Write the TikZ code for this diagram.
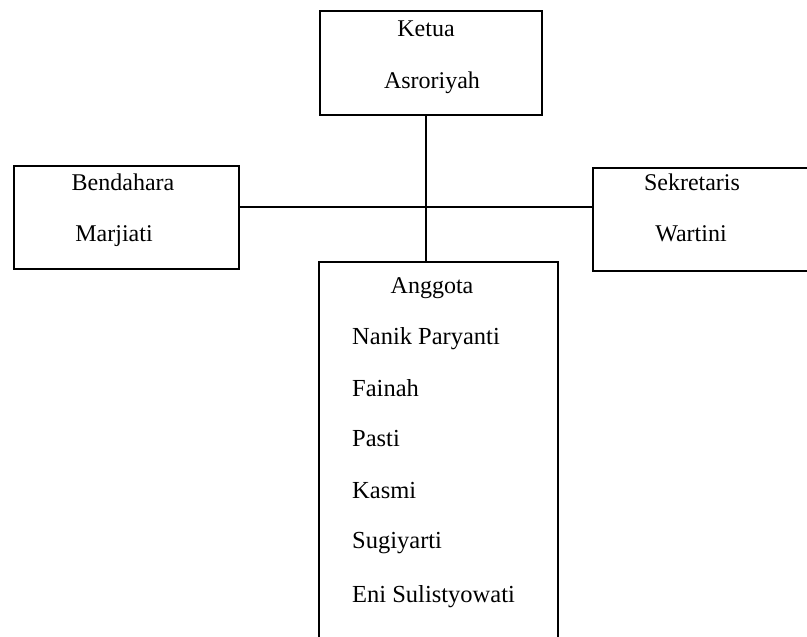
\documentclass[tikz,border=0pt]{standalone}
\usepackage{fontspec}
\setmainfont{Liberation Serif}
\begin{document}
\begin{tikzpicture}[x=1pt,y=-1pt,
  box/.style={draw=black,line width=1.6pt,inner sep=0pt,outer sep=0pt,anchor=north west},
  conn/.style={draw=black,line width=2.6pt},
  lbl/.style={inner sep=0pt,anchor=base,font=\fontsize{24}{28}\selectfont},
  mem/.style={inner sep=0pt,anchor=base west,font=\fontsize{24.5}{28}\selectfont}]
\useasboundingbox (0,0) rectangle (807,637);
\clip (0,0) rectangle (807,637);
\node[box,minimum width=222pt,minimum height=104pt] (ketua) at (320,11) {};
\node[box,minimum width=225pt,minimum height=103pt] (bendahara) at (14,166) {};
\draw[line width=2.6pt] (bendahara.north west) -- (bendahara.south west);
\node[box,minimum width=230pt,minimum height=103pt] (sekretaris) at (593,168) {};
\draw[line width=2.4pt] (sekretaris.north west) -- (sekretaris.south west);
\node[box,minimum width=239pt,minimum height=390pt] (anggota) at (319,262) {};
% texts
\node[lbl] (tketua) at (426,36) {Ketua};
\node[lbl] (tasro) at (432,88) {Asroriyah};
\node[lbl] (tbend) at (123,190) {Bendahara};
\node[lbl] (tmarj) at (114,241) {Marjiati};
\node[lbl] (tsekr) at (692,190) {Sekretaris};
\node[lbl] (twart) at (691,241) {Wartini};
\node[lbl] (tangg) at (432,293) {Anggota};
\node[mem] (m1) at (352,344) {Nanik Paryanti};
\node[mem] (m2) at (352,396) {Fainah};
\node[mem] (m3) at (352,446) {Pasti};
\node[mem] (m4) at (352,498) {Kasmi};
\node[mem] (m5) at (352,548) {Sugiyarti};
\node[mem] (m6) at (352,602) {Eni Sulistyowati};
% connectors
\coordinate (vtop) at ([xshift=-5pt]ketua.south);
\coordinate (hleft) at (239,207);
\draw[conn] (vtop) -- (vtop |- anggota.north);
\draw[conn] (bendahara.east |- hleft) -- (sekretaris.west |- hleft);
\end{tikzpicture}
\end{document}
